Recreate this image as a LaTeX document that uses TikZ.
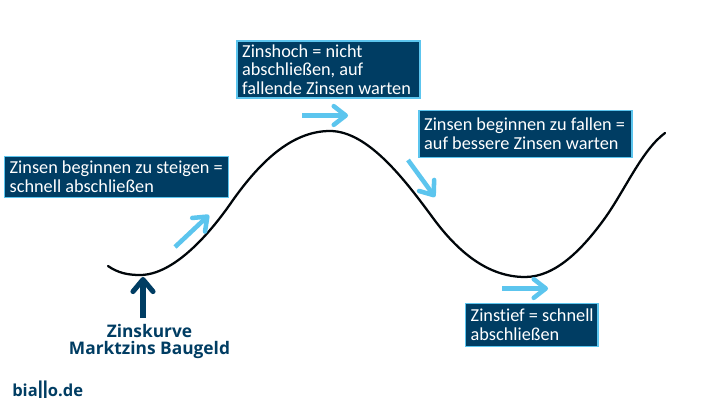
\documentclass[tikz,border=0pt]{standalone}
\usepackage{fontspec}
\usepackage{graphicx}
\setmainfont{Carlito}[Ligatures=NoCommon]
\newfontfamily\boldf{Open Sans}[UprightFont=* Bold]
\newcommand\tightsp{\spaceskip=.226em\relax}
\usetikzlibrary{arrows.meta}
\definecolor{navy}{HTML}{003D63}
\definecolor{sky}{HTML}{5CC5EE}
\tikzset{
 x=0.75pt,y=-0.75pt,
 infobox/.style 2 args={draw=sky,line width=1.4pt,fill=navy,text=white,anchor=north west,outer sep=0pt,inner ysep=0pt,inner xsep=3.9pt,font=\fontsize{13.7pt}{14pt}\selectfont,align=left,text width=#1-7.8pt,minimum height=#2},
 lightarrow/.style={draw=sky,line width=3.4pt,-{Straight Barb[length=9pt,width=14pt,line width=3.4pt,round]}},
 darkarrow/.style={draw=navy,line width=3.8pt,-{Straight Barb[length=9pt,width=15pt,line width=3.8pt,round]}},
 curve/.style={draw=black!90!navy,line width=1.7pt,line cap=round},
 caption/.style={text=navy,font=\boldf\fontsize{13pt}{12.4pt}\selectfont,align=center},
}
\begin{document}
\begin{tikzpicture}
\useasboundingbox (0,0) rectangle (720,410);
\fill[white] (0,0) rectangle (720,410);
\draw[curve] (108,266) .. controls (118,273) and (128,275) .. (140,275)
 .. controls (172,275) and (207,238) .. (233,200)
 .. controls (258,165) and (290,131) .. (330,131)
 .. controls (368,131) and (405,180) .. (433,218)
 .. controls (458,252) and (488,277) .. (525,277)
 .. controls (555,277) and (582,250) .. (605,218)
 .. controls (625,190) and (642,150) .. (665,133);
\node[infobox={168pt}{30.75pt},line width=1pt] (b1) at (4.5,156.5) {\tightsp Zinsen beginnen zu steigen =\\schnell abschließen};
\node[infobox={137.25pt}{42.75pt}] (b2) at (237,41) {\tightsp Zinshoch = nicht\\abschließen, auf\\fallende Zinsen warten};
\node[infobox={159.75pt}{35.25pt}] (b3) at (419,110.5) {\tightsp Zinsen beginnen zu fallen =\\auf bessere Zinsen warten};
\node[infobox={99.4pt}{32.25pt}] (b4) at (465.5,303.5) {\tightsp\mbox{Zinstief = schnell}\\abschließen};
\coordinate (a1s) at (175,247); \coordinate (a1e) at (209,215);
\coordinate (a2s) at (302,115.5); \coordinate (a2e) at (348,115.5);
\coordinate (a3s) at (408,160); \coordinate (a3e) at (435,197);
\coordinate (a4s) at (502,288.5); \coordinate (a4e) at (548,288.5);
\coordinate (a5s) at (143,318); \coordinate (a5e) at (143,277);
\draw[lightarrow] (a1s) -- (a1e);
\draw[lightarrow] (a2s) -- (a2e);
\draw[lightarrow] (a3s) -- (a3e);
\draw[lightarrow] (a4s) -- (a4e);
\draw[darkarrow] (a5s) -- (a5e);
\node[caption] (cap) at (149.5,341.5) {Zinskurve\\Marktzins Baugeld};
\node[text=navy,font=\boldf\fontsize{12.4pt}{14pt}\selectfont,anchor=base west,inner sep=0pt] (logo) at (12,396) {bia\raisebox{-2.2pt}{\scalebox{1}[1.4]{ll}}o.de};
\end{tikzpicture}
\end{document}
